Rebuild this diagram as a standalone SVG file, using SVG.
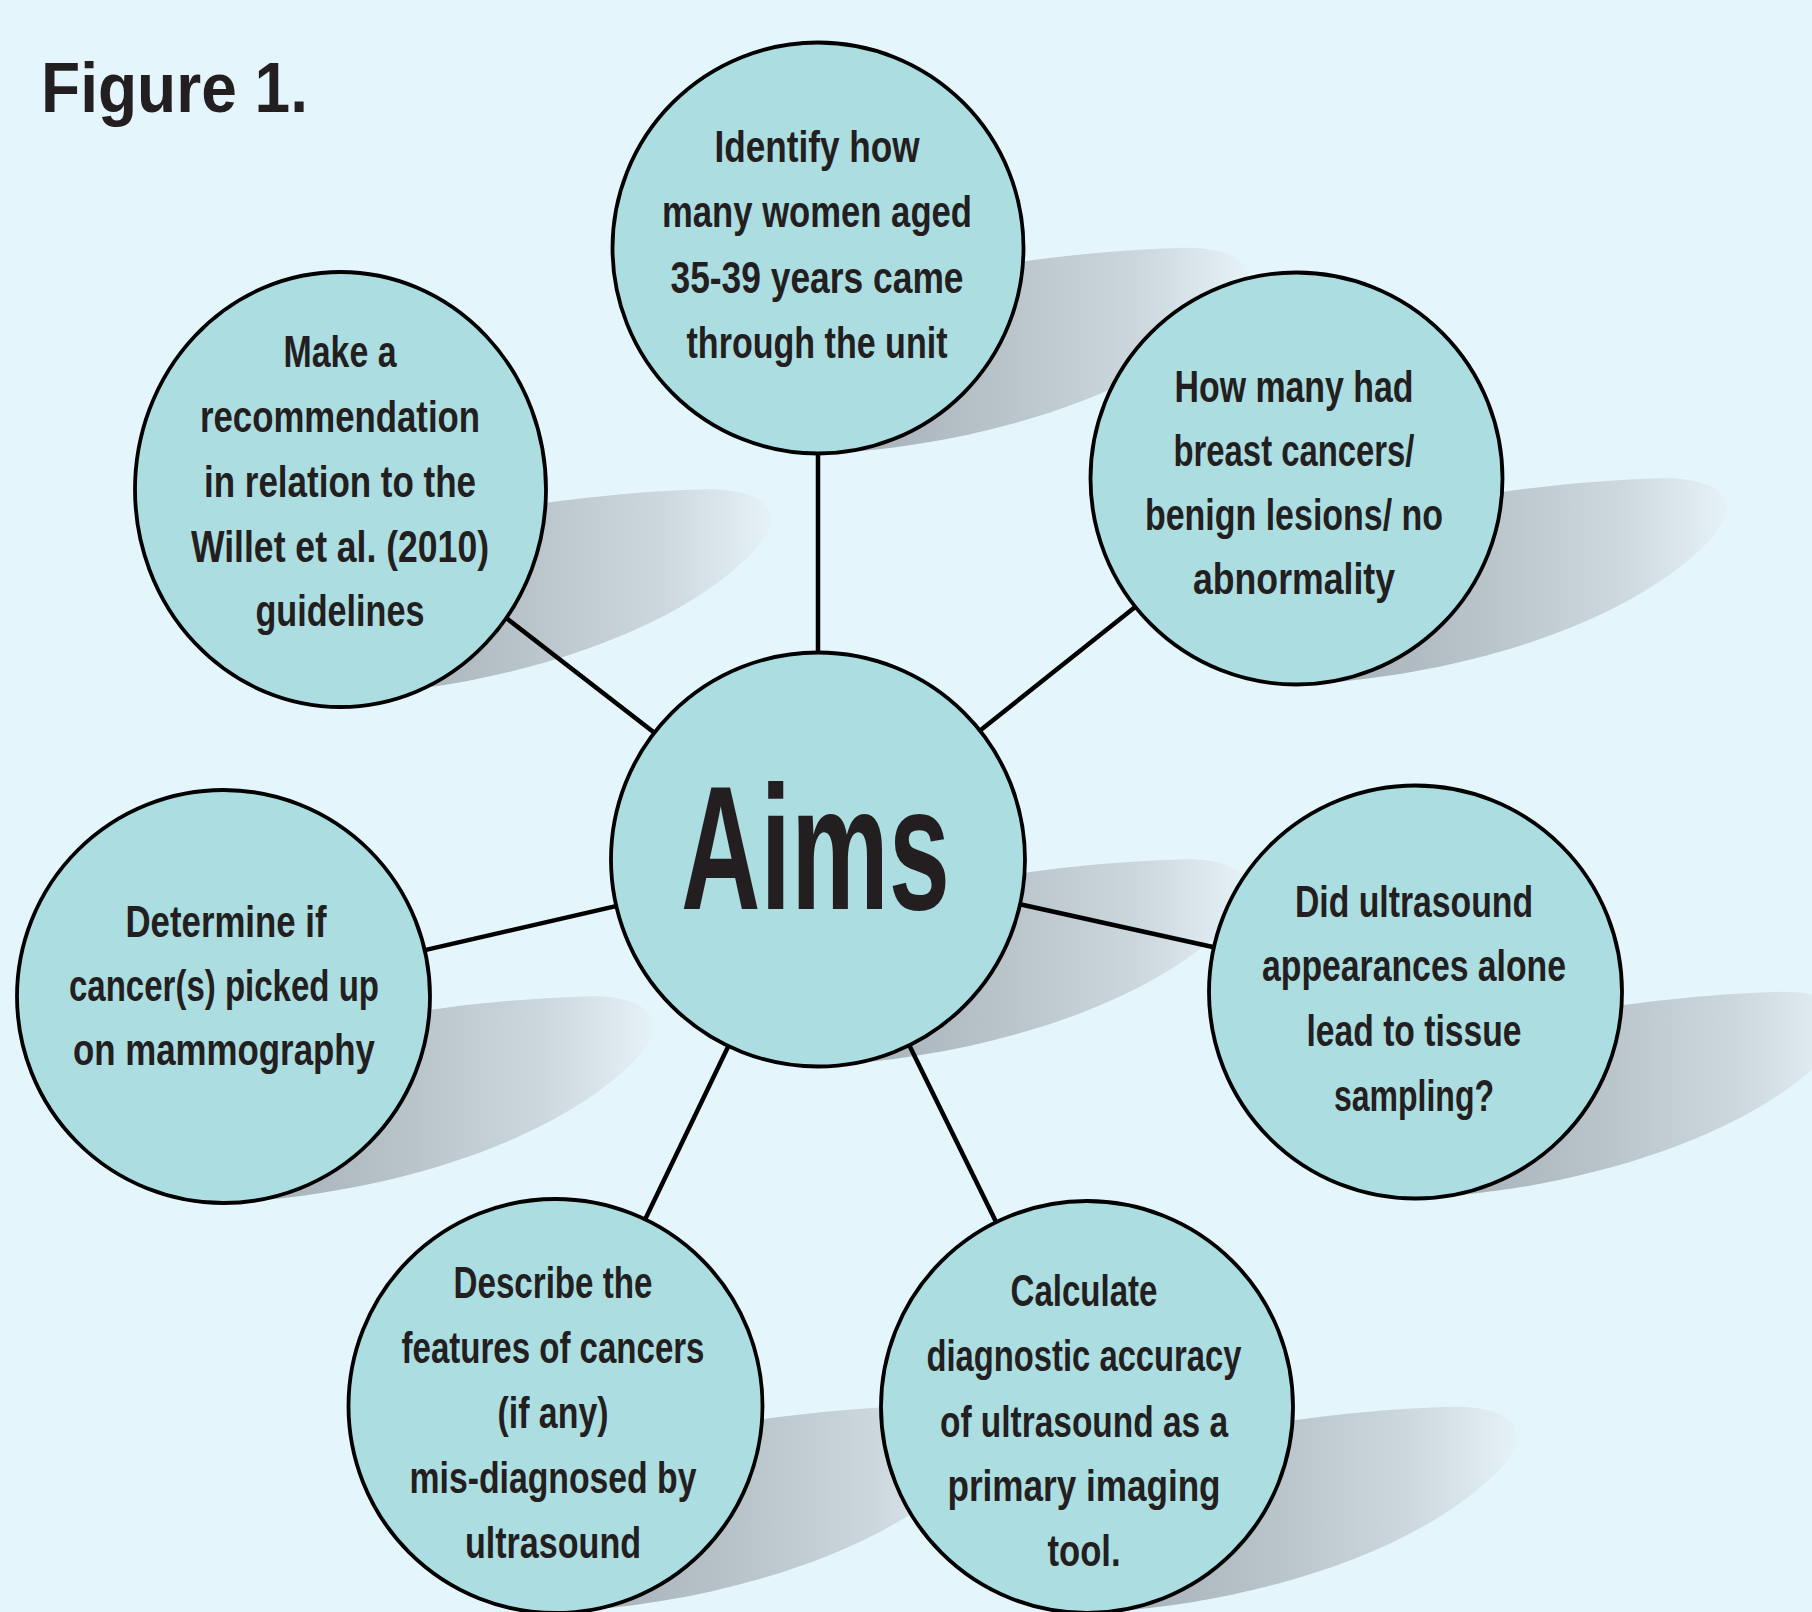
<svg xmlns="http://www.w3.org/2000/svg" xmlns:xlink="http://www.w3.org/1999/xlink" width="1812" height="1612" viewBox="0 0 1812 1612">
<defs>
<linearGradient id="shg" gradientUnits="userSpaceOnUse" x1="60" y1="0" x2="435" y2="0">
<stop offset="0" stop-color="#a9b4bc"/>
<stop offset="0.35" stop-color="#b9c4cb"/>
<stop offset="0.7" stop-color="#cdd8de"/>
<stop offset="1" stop-color="#e6f3f8"/>
</linearGradient>
<path id="sh" d="M 0 206 C 150 200 330 150 415 60 C 450 20 420 -2 360 0 C 260 3 120 20 0 60 Z" fill="url(#shg)"/>
<style>
.bub{fill:#acdde1;stroke:#000;stroke-width:3.8}
.lbl{font-family:"Liberation Sans",Arial,sans-serif;font-weight:bold;font-size:44px;fill:#231f20;text-anchor:middle}
.con{stroke:#000;stroke-width:4.5;fill:none}
</style>
</defs>
<rect width="1812" height="1612" fill="#e4f5fb"/>
<text x="41" y="112" font-family="Liberation Sans, Arial, sans-serif" font-weight="bold" font-size="70" fill="#231f20" textLength="267" lengthAdjust="spacingAndGlyphs">Figure 1.</text>
<g id="shadows">
<use xlink:href="#sh" transform="translate(818,248)"/>
<use xlink:href="#sh" transform="translate(340.5,489.5)"/>
<use xlink:href="#sh" transform="translate(1296.5,478.5)"/>
<use xlink:href="#sh" transform="translate(223.5,996.5)"/>
<use xlink:href="#sh" transform="translate(1415.5,992)"/>
<use xlink:href="#sh" transform="translate(555.5,1406)"/>
<use xlink:href="#sh" transform="translate(1087,1407)"/>
<use xlink:href="#sh" transform="translate(818,859.5)"/>
</g>
<g id="connectors" class="con">
<line x1="818" y1="859.5" x2="818" y2="248"/>
<line x1="818" y1="859.5" x2="340.5" y2="489.5"/>
<line x1="818" y1="859.5" x2="1296.5" y2="478.5"/>
<line x1="818" y1="859.5" x2="223.5" y2="996.5"/>
<line x1="818" y1="859.5" x2="1415.5" y2="992"/>
<line x1="818" y1="859.5" x2="555.5" y2="1406"/>
<line x1="818" y1="859.5" x2="1087" y2="1407"/>
</g>
<g id="node-identify">
<circle class="bub" cx="818" cy="248" r="205.5"/>
<text class="lbl" x="817" y="162" textLength="205" lengthAdjust="spacingAndGlyphs">Identify how</text>
<text class="lbl" x="817" y="227" textLength="310" lengthAdjust="spacingAndGlyphs">many women aged</text>
<text class="lbl" x="817" y="293" textLength="293" lengthAdjust="spacingAndGlyphs">35-39 years came</text>
<text class="lbl" x="817" y="358" textLength="261" lengthAdjust="spacingAndGlyphs">through the unit</text>
</g>
<g id="node-recommendation">
<ellipse class="bub" cx="340.5" cy="489.5" rx="205.5" ry="217.5"/>
<text class="lbl" x="340" y="367" textLength="113" lengthAdjust="spacingAndGlyphs">Make a</text>
<text class="lbl" x="340" y="432" textLength="280" lengthAdjust="spacingAndGlyphs">recommendation</text>
<text class="lbl" x="340" y="497" textLength="272" lengthAdjust="spacingAndGlyphs">in relation to the</text>
<text class="lbl" x="340" y="562" textLength="298" lengthAdjust="spacingAndGlyphs">Willet et al. (2010)</text>
<text class="lbl" x="340" y="626" textLength="169" lengthAdjust="spacingAndGlyphs">guidelines</text>
</g>
<g id="node-howmany">
<circle class="bub" cx="1296.5" cy="478.5" r="206"/>
<text class="lbl" x="1294" y="402" textLength="239" lengthAdjust="spacingAndGlyphs">How many had</text>
<text class="lbl" x="1294" y="466" textLength="241" lengthAdjust="spacingAndGlyphs">breast cancers/</text>
<text class="lbl" x="1294" y="530" textLength="298" lengthAdjust="spacingAndGlyphs">benign lesions/ no</text>
<text class="lbl" x="1294" y="594" textLength="202" lengthAdjust="spacingAndGlyphs">abnormality</text>
</g>
<g id="node-determine">
<circle class="bub" cx="223.5" cy="996.5" r="206.5"/>
<text class="lbl" x="226" y="937" textLength="201" lengthAdjust="spacingAndGlyphs">Determine if</text>
<text class="lbl" x="224" y="1001" textLength="310" lengthAdjust="spacingAndGlyphs">cancer(s) picked up</text>
<text class="lbl" x="224" y="1065" textLength="302" lengthAdjust="spacingAndGlyphs">on mammography</text>
</g>
<g id="node-ultrasound">
<circle class="bub" cx="1415.5" cy="992" r="206.5"/>
<text class="lbl" x="1414" y="917" textLength="238" lengthAdjust="spacingAndGlyphs">Did ultrasound</text>
<text class="lbl" x="1414" y="981" textLength="304" lengthAdjust="spacingAndGlyphs">appearances alone</text>
<text class="lbl" x="1414" y="1046" textLength="215" lengthAdjust="spacingAndGlyphs">lead to tissue</text>
<text class="lbl" x="1414" y="1111" textLength="160" lengthAdjust="spacingAndGlyphs">sampling?</text>
</g>
<g id="node-describe">
<circle class="bub" cx="555.5" cy="1406" r="207"/>
<text class="lbl" x="553" y="1298" textLength="199" lengthAdjust="spacingAndGlyphs">Describe the</text>
<text class="lbl" x="553" y="1363" textLength="303" lengthAdjust="spacingAndGlyphs">features of cancers</text>
<text class="lbl" x="553" y="1428" textLength="111" lengthAdjust="spacingAndGlyphs">(if any)</text>
<text class="lbl" x="553" y="1493" textLength="287" lengthAdjust="spacingAndGlyphs">mis-diagnosed by</text>
<text class="lbl" x="553" y="1558" textLength="176" lengthAdjust="spacingAndGlyphs">ultrasound</text>
</g>
<g id="node-calculate">
<circle class="bub" cx="1087" cy="1407" r="206"/>
<text class="lbl" x="1084" y="1306" textLength="147" lengthAdjust="spacingAndGlyphs">Calculate</text>
<text class="lbl" x="1084" y="1371" textLength="315" lengthAdjust="spacingAndGlyphs">diagnostic accuracy</text>
<text class="lbl" x="1084" y="1437" textLength="288" lengthAdjust="spacingAndGlyphs">of ultrasound as a</text>
<text class="lbl" x="1084" y="1501" textLength="273" lengthAdjust="spacingAndGlyphs">primary imaging</text>
<text class="lbl" x="1084" y="1566" textLength="73" lengthAdjust="spacingAndGlyphs">tool.</text>
</g>
<g id="node-aims">
<circle class="bub" cx="818" cy="859.5" r="207"/>
<text x="815.5" y="909" font-family="Liberation Sans, Arial, sans-serif" font-weight="bold" font-size="176" fill="#231f20" text-anchor="middle" textLength="269" lengthAdjust="spacingAndGlyphs">Aims</text>
</g>
</svg>
